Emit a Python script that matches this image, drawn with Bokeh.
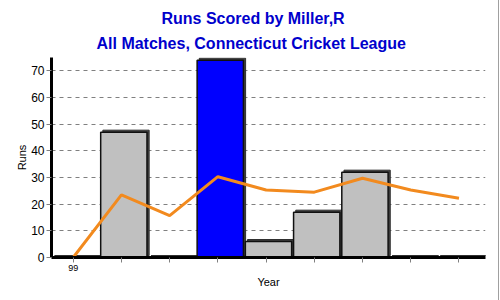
from bokeh.plotting import figure
from bokeh.models import Title, FixedTicker, Range1d
from bokeh.embed import file_html
from bokeh.resources import INLINE

# Data
positions = [0, 1, 2, 3, 4, 5, 6, 7, 8]
year_labels = ["99", "", "", "", "", "", "", "", ""]
runs = [0, 47, 0, 74, 6, 17, 32, 0, 0]
average = [0, 23.5, 15.7, 30.3, 25.3, 24.5, 29.7, 25.3, 22.2]

GRAY = "#c0c0c0"
BLUE = "#0000ff"
ZERO = "#0a2a0a"
top_val = max(runs)
colors = [BLUE if r == top_val else (ZERO if r == 0 else GRAY) for r in runs]

p = figure(width=499, height=300, output_backend="svg", toolbar_location=None,
           x_range=Range1d(-0.5, 8.5), y_range=Range1d(0, 75),
           min_border_left=51, min_border_right=14, min_border_top=57, min_border_bottom=43,
           title="Runs Scored by Miller,R")
p.outline_line_color = None
p.background_fill_color = "white"
p.border_fill_color = "white"

# 3D bars: back face offset up-right, then front face
w = 1.0
dx = 0.045
dy = 0.75
p.quad(left=[x - w / 2 + 0.02 + dx for x in positions], right=[x + w / 2 - 0.02 + dx for x in positions],
       bottom=[dy for _ in runs], top=[r + dy for r in runs],
       fill_color="#404040", line_color="#303030", line_width=1)
p.quad(left=[x - w / 2 + 0.02 for x in positions], right=[x + w / 2 - 0.02 for x in positions],
       bottom=[0 for _ in runs], top=runs,
       fill_color=colors, line_color="#101010", line_width=1.5)

p.line([x - 0.05 for x in positions], average, line_color="#f28a1e", line_width=3)

# Axes
p.yaxis.ticker = FixedTicker(ticks=[0, 10, 20, 30, 40, 50, 60, 70])
p.xaxis.ticker = FixedTicker(ticks=[x - 0.05 for x in positions])
p.xaxis.major_label_overrides = {x - 0.05: lab for x, lab in zip(positions, year_labels)}
for ax in (p.xaxis, p.yaxis):
    ax.axis_line_width = 3
    ax.axis_line_color = "black"
    ax.major_tick_line_color = "#808080"
    ax.major_tick_out = 5
    ax.major_tick_in = 0
    ax.minor_tick_line_color = None
    ax.major_label_text_font = "Liberation Sans"
    ax.axis_label_text_font = "Liberation Sans"
    ax.axis_label_text_font_style = "normal"
    ax.axis_label_text_color = "black"
    ax.major_label_text_color = "black"
p.yaxis.major_label_text_font_size = "12px"
p.xaxis.major_label_text_font_size = "9px"
p.yaxis.axis_label = "Runs"
p.xaxis.axis_label = "Year"
p.yaxis.axis_label_text_font_size = "11px"
p.xaxis.axis_label_text_font_size = "11px"
p.xaxis.axis_label_standoff = 2
p.yaxis.axis_label_standoff = 0
p.yaxis.major_label_standoff = 2
p.xaxis.major_label_standoff = 2

p.xgrid.grid_line_color = None
p.ygrid.grid_line_color = "#808080"
p.ygrid.grid_line_dash = "4 4"
p.ygrid.grid_line_width = 1

# Title lines
def style_title(t, off):
    t.align = "left"
    t.offset = off
    t.text_font = "Liberation Sans"
    t.text_font_style = "bold"
    t.text_font_size = "16px"
    t.text_color = "#0000cc"

style_title(p.title, 110)
p.title.standoff = 0
t2 = Title(text="All Matches, Connecticut Cricket League")
style_title(t2, 45)
t2.standoff = 12
p.add_layout(t2, "above")

p.styles = {"border-right": "1px solid #a0a0a0"}

open("out.html", "w").write(file_html(p, INLINE))
